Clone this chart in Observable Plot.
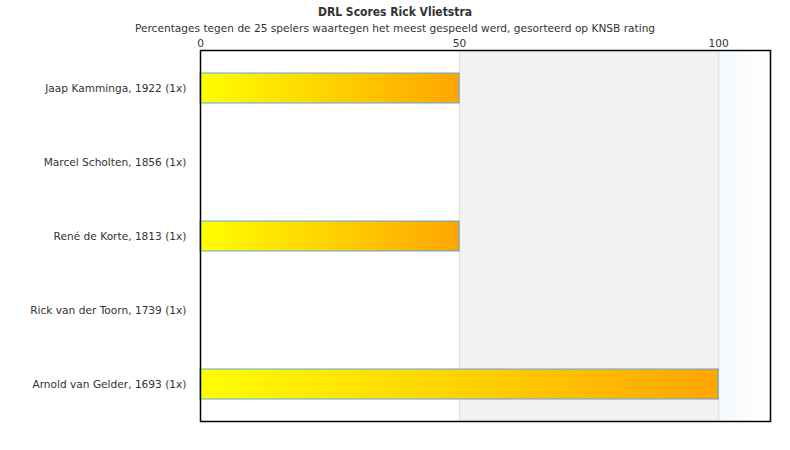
<!DOCTYPE html>
<html>
<head>
<meta charset="utf-8">
<script src="https://cdn.jsdelivr.net/npm/d3@7"></script>
<script src="https://cdn.jsdelivr.net/npm/@observablehq/plot@0.6"></script>
<style>
  body { margin: 0; background: #fff; font-family: "DejaVu Sans", sans-serif; }
  #wrap { width: 790px; }
  #title { text-align: center; font-family: "DejaVu Sans Condensed", "DejaVu Sans", sans-serif; font-stretch: condensed; font-size: 12px; font-weight: bold; color: #333; padding-top: 5px; line-height: 15px; height: 15px; }
  #subtitle { text-align: center; font-size: 10.6px; color: #333; line-height: 17px; height: 17px; }
</style>
</head>
<body>
<div id="wrap">
  <div id="title"></div>
  <div id="subtitle"></div>
  <div id="chart"></div>
</div>
<script>
const titleText = "DRL Scores Rick Vlietstra";
const subtitleText = "Percentages tegen de 25 spelers waartegen het meest gespeeld werd, gesorteerd op KNSB rating";
const players = [
  "Jaap Kamminga, 1922 (1x)",
  "Marcel Scholten, 1856 (1x)",
  "René de Korte, 1813 (1x)",
  "Rick van der Toorn, 1739 (1x)",
  "Arnold van Gelder, 1693 (1x)"
];
const scores = [50, 0, 50, 0, 100];
const xTicks = [0, 50, 100];
const xMax = 110;
const bandEdges = [50, 100, xMax];

document.getElementById("title").textContent = titleText;
document.getElementById("subtitle").textContent = subtitleText;

const data = players.map((p, i) => ({player: p, score: scores[i]}));
const bands = [
  {x1: bandEdges[0], x2: bandEdges[1], fill: "#f2f2f2"},
  {x1: bandEdges[1], x2: bandEdges[2], fill: "url(#bgGrad)"}
];

const defs = () => {
  const svgNS = "http://www.w3.org/2000/svg";
  const d = document.createElementNS(svgNS, "defs");
  d.innerHTML = `
    <linearGradient id="barGrad" x1="0" y1="0" x2="1" y2="0">
      <stop offset="0" stop-color="#ffff00"/>
      <stop offset="1" stop-color="#ffa500"/>
    </linearGradient>
    <linearGradient id="bgGrad" x1="0" y1="0" x2="1" y2="0">
      <stop offset="0" stop-color="#f4f8fb"/>
      <stop offset="1" stop-color="#ffffff"/>
    </linearGradient>`;
  return d;
};

const chart = Plot.plot({
  width: 790,
  height: 413,
  marginLeft: 200,
  marginRight: 20,
  marginTop: 13,
  marginBottom: 29,
  style: {fontFamily: "DejaVu Sans, sans-serif", fontSize: "10.6px", color: "#333", background: "#fff"},
  x: {domain: [0, xMax], axis: null},
  y: {domain: players, axis: null, label: null, paddingInner: 0.595, paddingOuter: 0.2975},
  marks: [
    defs,
    Plot.rectX(bands, {x1: "x1", x2: "x2", fill: d => d.fill}),
    Plot.ruleX(xTicks.slice(1), {stroke: "#dddddd", strokeWidth: 1}),
    Plot.barX(data.filter(d => d.score > 0), {
      x: "score", y: "player", fill: "url(#barGrad)", stroke: "#5aa5ea", strokeWidth: 1
    }),
    Plot.axisX(xTicks, {anchor: "top", tickSize: 0, tickPadding: 4, fill: "#333", fontSize: 10.6, label: null}),
    Plot.axisY(players, {anchor: "left", tickSize: 0, tickPadding: 14, fill: "#333", fontSize: 10.6, label: null}),
    Plot.frame({stroke: "#000", strokeWidth: 1.5})
  ]
});
document.getElementById("chart").appendChild(chart);
</script>
</body>
</html>
